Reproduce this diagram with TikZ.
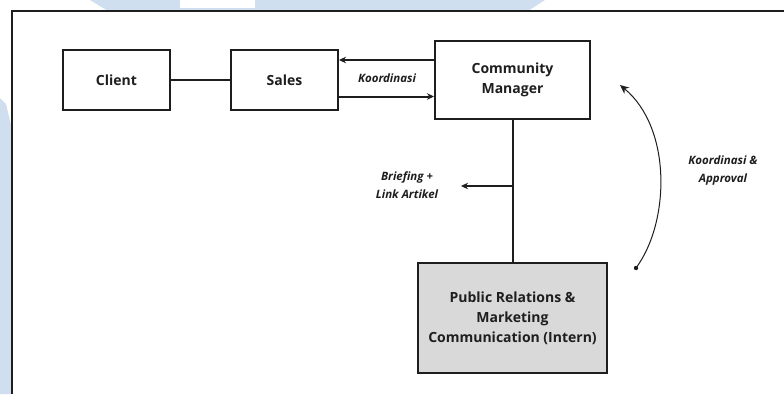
\documentclass[tikz,border=0pt]{standalone}
\usepackage{fontspec}
\setmainfont{Open Sans}
\usetikzlibrary{arrows.meta}
\definecolor{ink}{HTML}{1E1E1E}
\definecolor{wm}{HTML}{D0DFEF}
\definecolor{boxgray}{HTML}{D9D9D9}
\tikzset{
  box/.style={draw=ink, line width=2pt, fill=white, inner sep=0pt, align=center,
    font=\fontsize{14}{20}\selectfont\bfseries, text=ink},
  conn/.style={draw=ink, line width=2pt},
  arr/.style={conn, -{Stealth[length=7pt,width=6.5pt]}},
  lbl/.style={align=center, font=\fontsize{11.5}{18}\selectfont\bfseries\itshape, text=ink},
}
\begin{document}
\begin{tikzpicture}[x=1pt,y=-1pt]
\useasboundingbox (0,0) rectangle (784,394);
\fill[white] (0,0) rectangle (784,394);
% watermark remnants
\fill[wm] (90,0) -- (545,0) -- (528,11) -- (108,11) -- cycle;
\fill[white] (180,0) rectangle (255,8);
\fill[wm] (0,98) -- (6,104) -- (11,125) -- (11,394) -- (0,394) -- cycle;
% frame
\draw[ink, line width=1.5pt] (784,11) -- (12,11) -- (12,394);
% boxes
\node[box, minimum width=107pt, minimum height=60pt] (client) at (116.5,80) {Client};
\node[box, minimum width=107pt, minimum height=60pt] (sales) at (284.5,80) {Sales};
\node[box, minimum width=155pt, minimum height=78pt] (cm) at (512.5,80) {Community\\Manager};
\node[box, fill=boxgray, minimum width=189pt, minimum height=110pt] (pr) at (512.5,318) {Public Relations \&\\Marketing\\Communication (Intern)};
% connectors
\draw[conn] (client.east) -- (sales.east -| sales.west);
\draw[arr] (cm.west |- 0,60) -- (sales.east |- 0,60);
\draw[arr] (sales.east |- 0,96.5) -- (cm.west |- 0,96.5);
\node[lbl] (koord) at (387,78) {Koordinasi};
\draw[conn] (cm.south) -- (pr.north);
\coordinate (branch) at (512,186);
\coordinate (brend) at (461,186);
\draw[arr] (branch) -- (brend);
\node[lbl] (brief) at (407,185.5) {Briefing +\\Link Artikel};
\coordinate (dot) at (636,268);
\coordinate (apptip) at (620,85);
\fill[ink] (dot) circle (2.2pt);
\draw[ink, line width=1pt, -{Stealth[length=9pt,width=8pt]}] (dot) .. controls (670,222) and (672,128) .. (apptip);
\node[lbl] (appr) at (723,171) {Koordinasi \&\\Approval};
\end{tikzpicture}
\end{document}
